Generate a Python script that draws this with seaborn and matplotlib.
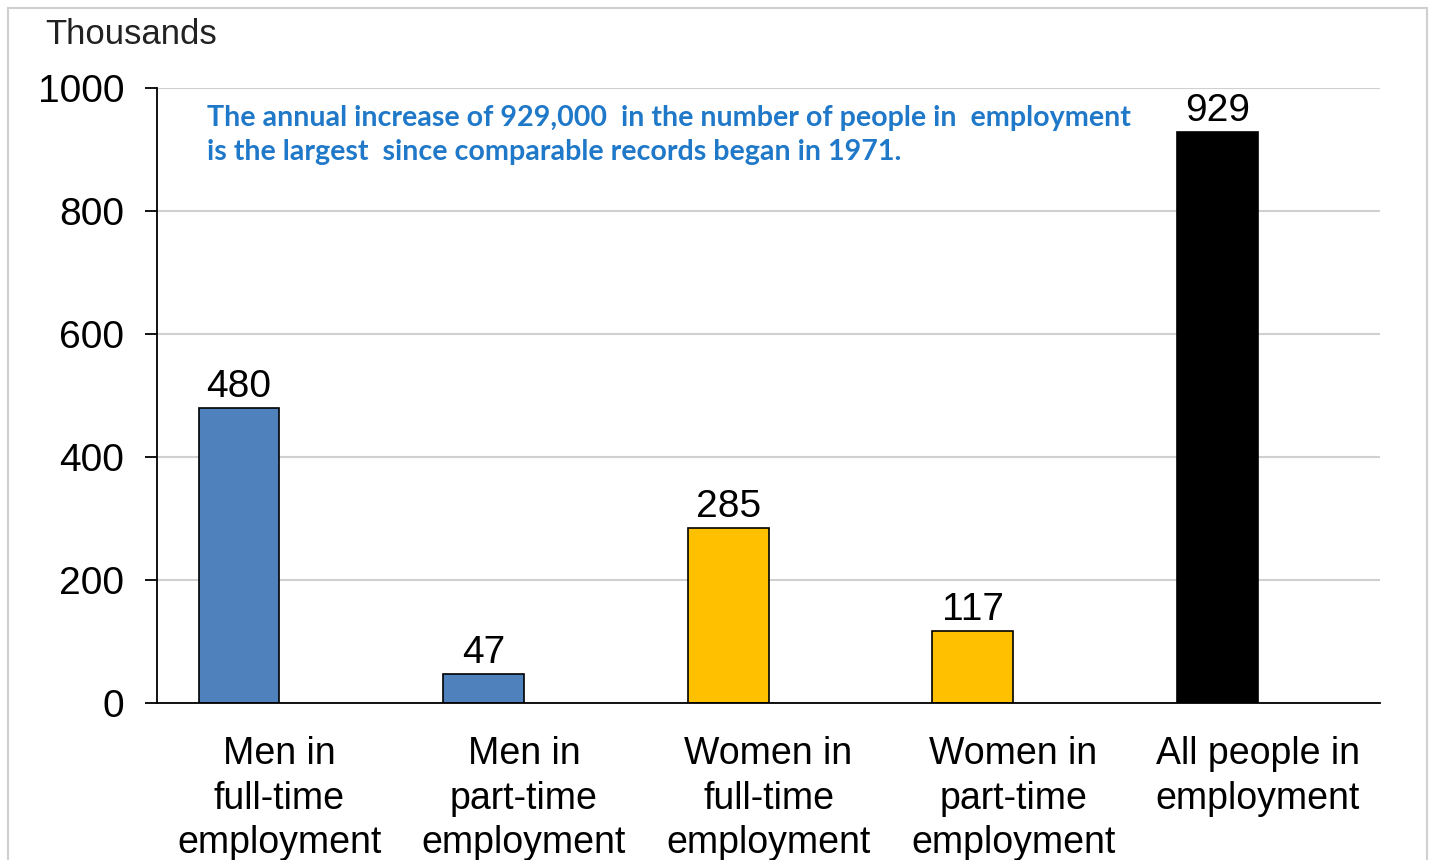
import matplotlib
matplotlib.use("Agg")
import matplotlib.pyplot as plt
import seaborn as sns
from matplotlib.patches import Rectangle

# Annual change in employment, thousands
categories = [
    "Men in\nfull-time\nemployment",
    "Men in\npart-time\nemployment",
    "Women in\nfull-time\nemployment",
    "Women in\npart-time\nemployment",
    "All people in\nemployment",
]
values = [480, 47, 285, 117, 929]
bar_colors = ["#4F81BD", "#4F81BD", "#FFC000", "#FFC000", "#000000"]
y_ticks = [0, 200, 400, 600, 800, 1000]
note = ("The annual increase of 929,000  in the number of people in  employment\n"
        "is the largest  since comparable records began in 1971.")

sns.set_theme(style="white")
plt.rcParams["font.family"] = ["Liberation Sans", "DejaVu Sans"]

fig = plt.figure(figsize=(14.33, 8.6), dpi=100)
ax = fig.add_axes([0.1096, 0.1826, 0.8534, 0.7151])

sns.barplot(x=categories, y=values, hue=categories, palette=bar_colors,
            legend=False, width=0.33, edgecolor="black", linewidth=1.2,
            saturation=1, ax=ax)

# bars sit left of the centre of each category slot, labels stay centred
ax.set_xlim(-0.335, 4.665)
ax.set_xticks([i + 0.165 for i in range(len(categories))])
ax.set_xticklabels(categories)

ax.set_ylim(0, 1000)
ax.set_yticks(y_ticks)
ax.set_yticklabels([str(t) for t in y_ticks])
ax.yaxis.grid(True, color="#D0D0D0", linewidth=1.5)
ax.set_axisbelow(True)
for side in ("top", "right"):
    ax.spines[side].set_visible(False)
for side in ("left", "bottom"):
    ax.spines[side].set_color("black")
    ax.spines[side].set_linewidth(1.3)

ax.tick_params(axis="y", which="major", left=True, length=8.6, width=1.3,
               color="black", pad=15, labelsize=28, labelcolor="black")
ax.tick_params(axis="x", bottom=False, pad=18, labelsize=27, labelcolor="black")
for lbl in ax.get_xticklabels():
    lbl.set_linespacing(1.3)
ax.set_xlabel("")
ax.set_ylabel("")

for cont in ax.containers:
    ax.bar_label(cont, fmt="%d", padding=2, fontsize=28, color="black")

fig.text(45 / 1433, 1 - 35 / 860, "Thousands", fontsize=25, color="#222222",
         va="center", ha="left")

ax.text(0.041, 0.973, note, transform=ax.transAxes, fontsize=20.6,
        family=["Lato", "DejaVu Sans"], fontweight="bold", color="#1F78C8",
        va="top", ha="left", linespacing=1.4)

# light frame around the chart area
fig.patches.append(Rectangle((8 / 1433, -0.05), 1419 / 1433, 1.05 - 8 / 860,
                             transform=fig.transFigure, fill=False,
                             edgecolor="#D0D0D0", linewidth=1.5))

fig.savefig("out.png", dpi=100)
